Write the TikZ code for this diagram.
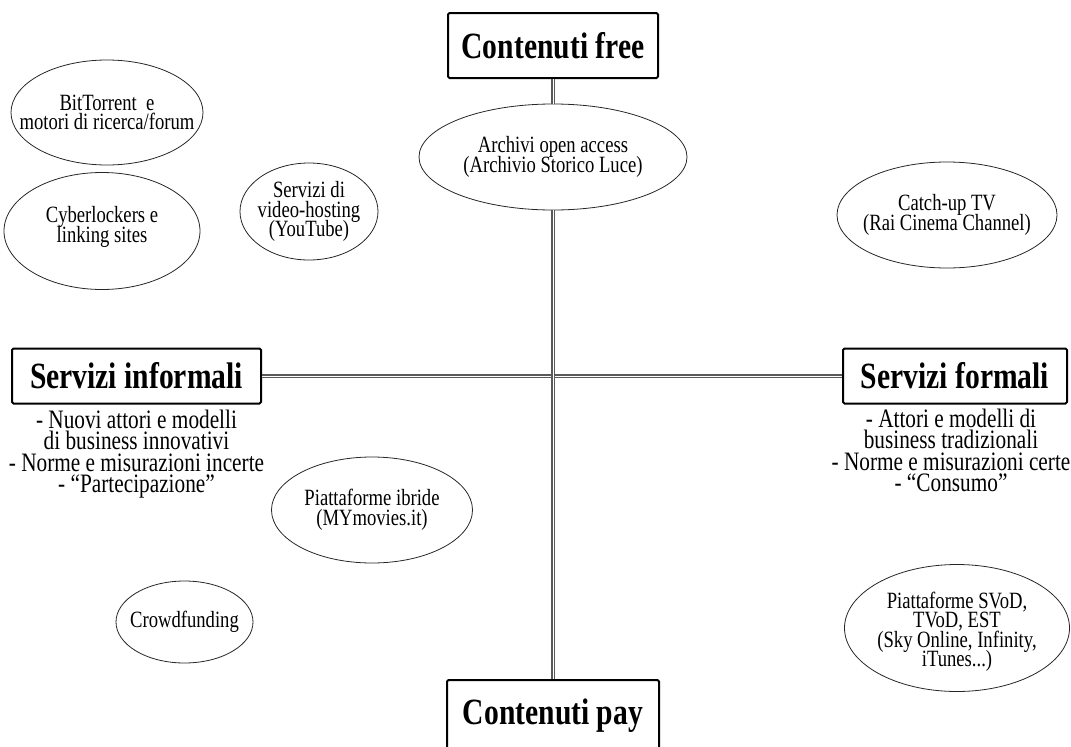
\documentclass[tikz,border=0pt]{standalone}
\usepackage{fontspec}
\setmainfont[FakeStretch=0.8]{Liberation Serif}
\usetikzlibrary{positioning, shapes.geometric}
\newcommand{\tightlines}{\lineskiplimit=-30pt\relax}

\begin{document}
\begin{tikzpicture}[x=1pt, y=-1pt,
  headbox/.style={draw, line width=2pt, rounded corners=1.5pt, fill=white, inner sep=0pt,
    font={\fontsize{37}{40}\selectfont\bfseries}},
  bubble/.style={ellipse, draw=black!85, line width=0.8pt, inner sep=0pt},
  bubbletext/.style={align=center, inner sep=0pt,
    font={\fontsize{23.3}{19.5}\selectfont\tightlines}},
  note/.style={align=center, inner sep=0pt,
    font={\fontsize{26.6}{21.5}\selectfont\tightlines}},
  axis/.style={draw=gray!70!black, double=white, double distance=1pt, line width=1.1pt}]
\useasboundingbox (0,0) rectangle (1071,747);

% ============= the four poles of the map =============
\node[headbox, minimum width=210, minimum height=65] (free) at (553,45.5) {Contenuti free};
\node[headbox, minimum width=212, minimum height=72] (pay) at (553,716) {Contenuti pay};
\node[headbox, minimum width=249, minimum height=55] (informali) at (136.5,376) {Servizi informali};
\node[headbox, minimum width=224, minimum height=55] (formali) at (955,376) {Servizi formali};

% --- short descriptions under the two service boxes ---
\node[note, below=5pt of informali] (infnote)
  {- Nuovi attori e modelli\\di business innovativi\\- Norme e misurazioni incerte\\- “Partecipazione”};
\node[note, below=4pt of formali, xshift=-4pt] (fornote)
  {- Attori e modelli di\\business tradizionali\\- Norme e misurazioni certe\\- “Consumo”};

% ============= the services placed on the map =============
\node[bubble, minimum width=192, minimum height=105,
  label={[bubbletext]center:{BitTorrent\ \ e\\motori di ricerca/forum}}] (bittorrent) at (107,112.5) {};
\node[bubble, minimum width=196, minimum height=117,
  label={[bubbletext, yshift=4pt]center:{Cyberlockers e\\linking sites}}] (cyberlockers) at (102,231) {};
\node[bubble, minimum width=138, minimum height=97,
  label={[bubbletext]center:{Servizi di\\video-hosting\\(YouTube)}}] (youtube) at (309,211.5) {};
\node[bubble, minimum width=268, minimum height=106,
  label={[bubbletext]center:{Archivi open access\\(Archivio Storico Luce)}}] (archivi) at (553,157) {};
\node[bubble, minimum width=220, minimum height=106,
  label={[bubbletext]center:{Catch-up TV\\(Rai Cinema Channel)}}] (catchup) at (947,215) {};
\node[bubble, minimum width=201, minimum height=106,
  label={[bubbletext]center:{Piattaforme ibride\\(MYmovies.it)}}] (ibride) at (372,510) {};
\node[bubble, minimum width=137, minimum height=82,
  label={[bubbletext]center:{Crowdfunding}}] (crowdfunding) at (184.5,622) {};
\node[bubble, minimum width=225, minimum height=127,
  label={[bubbletext, yshift=-4pt]center:{Piattaforme SVoD,\\TVoD, EST\\(Sky Online, Infinity,\\iTunes...)}}] (svod) at (957,628) {};

% ============= axes =============
\draw[axis] (informali) -- (formali);
\draw[axis] (free) -- (archivi);
\draw[axis] (archivi) -- (pay);
\end{tikzpicture}
\end{document}
